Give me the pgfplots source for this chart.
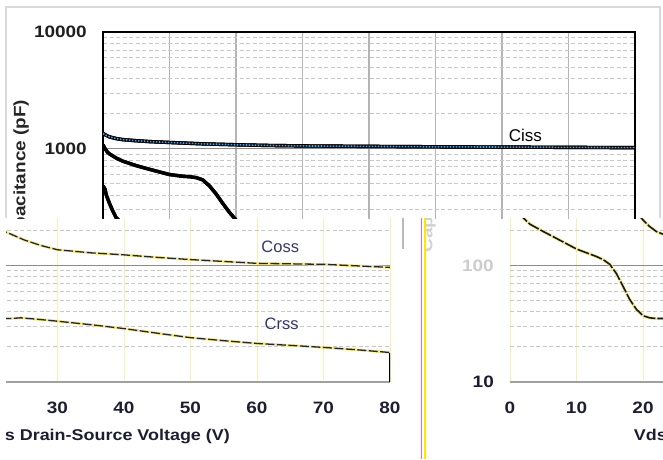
\documentclass[border=0pt]{standalone}
\usepackage{fontspec}
\setmainfont{Liberation Sans}
\newfontfamily\wfont[FakeStretch=1.15]{Liberation Sans}
\usepackage{pgfplots}
\usepackage{pgfplotstable}
\pgfplotsset{compat=1.18}
\definecolor{cblue}{HTML}{5B9BD5}
\definecolor{gridtop}{HTML}{B4B4B4}
\definecolor{gridmaj}{HTML}{8C8C8C}
\definecolor{gridmin}{HTML}{C8C8C8}
\definecolor{gridyel}{HTML}{F6F0B4}
\definecolor{axgray}{HTML}{A0A0A0}
\definecolor{framegray}{HTML}{D9D9D9}
\definecolor{navy}{HTML}{1E1E32}
\definecolor{lblnavy}{HTML}{36366A}
\definecolor{haloyel}{HTML}{F2EA9C}

\pgfplotstableread{
x y
0 1350
0.5 1300
1 1260
2 1220
3 1195
5 1170
7 1150
10 1130
15 1100
20 1080
25 1065
30 1056
40 1046
50 1038
60 1032
70 1026
80 1020
}\ciss

\pgfplotstableread{
x y
0 1080
0.3 1000
0.7 930
1 900
2 830
3 780
5 715
7 665
10 600
12 580
13 575
14 565
15 540
16 480
17 410
18 340
19 285
20 245
21 215
22 195
23 185
25 165
27.5 148
30 136
35 128
40 123
45 117
50 112
55 108
60 104
65 103
70 102
75 99
80 96
}\coss

\pgfplotstableread{
x y
0 480
0.3 450
0.5 400
1 337
1.5 290
2 255
3 225
5 195
7 170
10 138
12 125
13 119
14 112
15 102
16 85
17 66
18 51
19 42
20 37
21 35.5
22 35
23 35
24.5 35.5
27 34.5
30 33.2
35 31
40 28.7
45 26.2
50 24
55 22.6
60 21.4
65 20.6
70 19.8
75 18.9
80 17.9
}\crss

\newcommand\capchart[1]{%
\begin{axis}[
  scale only axis, width=532pt, height=350pt, anchor=south west,
  ymode=log, xmin=0, xmax=80, ymin=10, ymax=10000,
  xtick={0,10,...,80}, ytick={10,100,1000,10000},
  yticklabels={10,100,1000,10000},
  major tick length=0pt, minor tick length=0pt,
  xmajorgrids, ymajorgrids, yminorgrids,
  tick label style={font=\wfont\bfseries\fontsize{16.5}{16.5}\selectfont},
  xticklabel style={anchor=center, yshift=-25.5pt},
  yticklabel style={anchor=east, inner sep=0pt, xshift=-16pt},
  xlabel={Vds Drain-Source Voltage (V)},
  xlabel style={at={(axis description cs:0.466,-0.157)}, anchor=center,
    font=\wfont\bfseries\fontsize{15.6}{16}\selectfont},
  ylabel={Capacitance (pF)},
  ylabel style={at={(axis description cs:-0.154,0.588)}, anchor=center,
    font=\wfont\bfseries\fontsize{16.5}{17}\selectfont},
  major y grid style={color=gridmaj, line width=1.2pt},
  minor y grid style={color=gridmin, line width=0.8pt, dash pattern=on 4pt off 2.5pt},
  #1,
  /pgf/number format/assume math mode=true]
\addplot[halo] table {\ciss};
\addplot[main] table {\ciss};
\addplot[cissdots] table {\ciss};
\addplot[halo] table {\coss};
\addplot[main] table {\coss};
\addplot[halo] table {\crss};
\addplot[main] table {\crss};
\addplot[black, line width=2.5pt] coordinates {(80,10) (80,17.9)};
\node[lbl] at (axis cs:63.5,1290) {Ciss};
\node[lbl] at (axis cs:63.5,145) {Coss};
\node[lbl] at (axis cs:63.7,31.3) {Crss};
\end{axis}}

\begin{document}
\begin{tikzpicture}
\fill[white] (0pt,0pt) rectangle (663pt,459pt);
% ---- top region
\begin{scope}
\tikzset{
  halo/.style={black, line width=3.4pt},
  main/.style={black, line width=3.4pt},
  cissdots/.style={color=cblue, line width=1.6pt, dash pattern=on 1.6pt off 1.4pt},
  lbl/.style={font=\fontsize{17}{17}\selectfont, text=black},
}
\clip (0pt,241pt) rectangle (663pt,459pt);
\capchart{at={(103pt,77pt)},
  axis line style={black, line width=2.5pt},
  tick label style={color=black!88},
  xlabel style={color=black!85},
  ylabel style={color=black!85},
  major x grid style={color=gridtop, line width=1.4pt}}
\end{scope}
\draw[framegray, line width=1.5pt] (6pt,241pt) -- (6pt,452pt) -- (660pt,452pt) -- (660pt,241pt);
% ---- bottom-left fragment
\begin{scope}
\tikzset{
  halo/.style={haloyel, line width=2.8pt},
  main/.style={black!85, line width=1.3pt, dash pattern=on 9pt off 2.5pt},
  cissdots/.style={draw=none},
  lbl/.style={font=\fontsize{16.5}{17}\selectfont, text=lblnavy},
}
\clip (6pt,0pt) rectangle (421pt,241pt);
\capchart{at={(-142pt,77pt)},
  axis x line*=bottom, axis y line*=left,
  y axis line style={draw=none},
  x axis line style={-, color=axgray, line width=2pt},
  tick label style={color=navy},
  xlabel style={color=navy},
  major x grid style={color=gridyel, line width=0.9pt}}
\end{scope}
% ---- bottom-right fragment
\begin{scope}
\tikzset{
  halo/.style={haloyel, line width=3.2pt},
  main/.style={black!90, line width=1.6pt, dash pattern=on 12pt off 2pt},
  cissdots/.style={draw=none},
  lbl/.style={font=\fontsize{16.5}{17}\selectfont, text=lblnavy},
}
\clip (425pt,0pt) rectangle (663pt,241pt);
\capchart{at={(510pt,77pt)},
  axis x line*=bottom, axis y line*=left,
  y axis line style={draw=none},
  x axis line style={-, color=axgray, line width=2pt},
  tick label style={color=navy},
  xlabel style={color=navy},
  ylabel style={color=gray!35},
  yticklabels={10,{\textcolor{gray!40}{100}},1000,10000},
  major x grid style={color=gridyel, line width=0.9pt}}
\end{scope}
% ---- seams
\draw[gray!55, line width=1.5pt] (403pt,241pt) -- (403pt,210pt);
\draw[magenta!60, line width=1pt] (421pt,241pt) -- (421pt,0pt);
\draw[yellow!90!orange, line width=1.2pt] (425pt,241pt) -- (425pt,0pt);
\pgfresetboundingbox
\useasboundingbox (0pt,0pt) rectangle (663pt,459pt);
\end{tikzpicture}
\end{document}
